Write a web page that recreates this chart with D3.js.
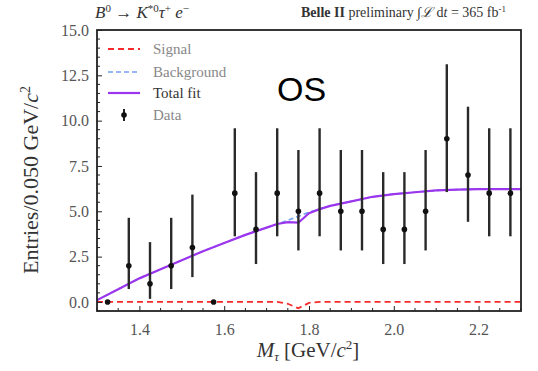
<!DOCTYPE html>
<html>
<head>
<meta charset="utf-8">
<script src="https://cdn.jsdelivr.net/npm/d3@7"></script>
<style>
  body { margin: 0; background: #fff; }
  svg text { font-family: "Liberation Serif", "DejaVu Serif", serif; }
</style>
</head>
<body>
<div id="chart"></div>
<script>
// data points: bin centres, counts and Poisson error bars
const binCenters = [1.325, 1.375, 1.425, 1.475, 1.525, 1.575, 1.625, 1.675, 1.725, 1.775,
                    1.825, 1.875, 1.925, 1.975, 2.025, 2.075, 2.125, 2.175, 2.225, 2.275];
const counts = [0, 2, 1, 2, 3, 0, 6, 4, 6, 5, 6, 5, 5, 4, 4, 5, 9, 7, 6, 6];
const errLow  = [0, 1.29, 0.83, 1.29, 1.63, 0, 2.38, 1.91, 2.38, 2.16, 2.38, 2.16, 2.16, 1.91, 1.91, 2.16, 2.94, 2.58, 2.38, 2.38];
const errHigh = [0, 2.64, 2.30, 2.64, 2.92, 0, 3.58, 3.16, 3.58, 3.38, 3.58, 3.38, 3.38, 3.16, 3.16, 3.38, 4.11, 3.77, 3.58, 3.58];

// fit curves
const fitX = [1.30, 1.35, 1.40, 1.45, 1.50, 1.55, 1.60, 1.65, 1.70, 1.725, 1.75, 1.775, 1.80, 1.825,
              1.85, 1.90, 1.95, 2.00, 2.05, 2.10, 2.15, 2.20, 2.25, 2.30];
const background = [0.1, 0.7, 1.3, 1.8, 2.3, 2.8, 3.25, 3.7, 4.1, 4.3, 4.5, 4.72, 4.95, 5.12,
                    5.3, 5.55, 5.8, 5.95, 6.05, 6.15, 6.2, 6.22, 6.22, 6.22];
const signal = [0, 0, 0, 0, 0, 0, 0, 0, 0, 0, -0.1, -0.35, -0.05, 0,
                0, 0, 0, 0, 0, 0, 0, 0, 0, 0];

const xTicks = [1.4, 1.6, 1.8, 2.0, 2.2];
const yTicks = [0, 2.5, 5, 7.5, 10, 12.5, 15];
const legendItems = ['Signal', 'Background', 'Total fit', 'Data'];

const width = 538, height = 371;
const margin = {left: 97, right: 17, top: 30, bottom: 60};
const serif = '"Liberation Serif", "DejaVu Serif", serif';

const svg = d3.select('#chart').append('svg')
  .attr('width', width).attr('height', height);

const x = d3.scaleLinear().domain([1.3, 2.3]).range([margin.left, width - margin.right]);
const y = d3.scaleLinear().domain([-0.5, 15]).range([height - margin.bottom, margin.top]);

const plot = svg.append('g');
svg.append('clipPath').attr('id', 'clip').append('rect')
  .attr('x', x(1.3)).attr('y', y(15)).attr('width', x(2.3) - x(1.3)).attr('height', y(-0.5) - y(15));

// axes: inward ticks, major + minor
const xMinor = d3.range(1.3, 2.3001, 0.05).filter(v => !xTicks.some(t => Math.abs(t - v) < 1e-6));
const yMinor = d3.range(-0.5, 15.001, 0.5).filter(v => !yTicks.some(t => Math.abs(t - v) < 1e-6));

const xAxis = svg.append('g').attr('transform', 'translate(0,' + y(-0.5) + ')');
xAxis.call(d3.axisBottom(x).tickValues(xTicks).tickSizeInner(-5).tickSizeOuter(0).tickPadding(13).tickFormat(d3.format('.1f')));
xAxis.append('g').selectAll('line').data(xMinor).enter().append('line')
  .attr('x1', d => x(d)).attr('x2', d => x(d)).attr('y1', 0).attr('y2', -3)
  .attr('stroke', '#222');

const yAxis = svg.append('g').attr('transform', 'translate(' + x(1.3) + ',0)');
yAxis.call(d3.axisLeft(y).tickValues(yTicks).tickSizeInner(-5).tickSizeOuter(0).tickPadding(8).tickFormat(d3.format('.1f')));
yAxis.append('g').selectAll('line').data(yMinor).enter().append('line')
  .attr('y1', d => y(d)).attr('y2', d => y(d)).attr('x1', 0).attr('x2', 3)
  .attr('stroke', '#222');

svg.selectAll('.domain').remove();
svg.selectAll('.tick line').attr('stroke', '#222');
svg.selectAll('.tick text').attr('fill', '#555').attr('font-family', serif)
  .style('font-family', serif).style('font-size', '16px');

// fit curves
const curve = d3.line().x((d, i) => x(fitX[i])).y(d => y(d));
const total = background.map((b, i) => b + signal[i]);

plot.append('path').datum(background).attr('clip-path', 'url(#clip)')
  .attr('d', curve).attr('fill', 'none')
  .attr('stroke', '#6fa0f0').attr('stroke-width', 1.6).attr('stroke-dasharray', '5,3');
plot.append('path').datum(total).attr('clip-path', 'url(#clip)')
  .attr('d', curve).attr('fill', 'none')
  .attr('stroke', '#9c35ee').attr('stroke-width', 2.2);
plot.append('path').datum(signal).attr('clip-path', 'url(#clip)')
  .attr('d', curve).attr('fill', 'none')
  .attr('stroke', '#f52a2a').attr('stroke-width', 1.8).attr('stroke-dasharray', '6,4');

// data with error bars
const points = counts.map((c, i) => ({x: binCenters[i], n: c, lo: errLow[i], hi: errHigh[i]}));
plot.append('g').selectAll('line').data(points.filter(d => d.n > 0)).enter().append('line')
  .attr('x1', d => x(d.x)).attr('x2', d => x(d.x))
  .attr('y1', d => y(d.n - d.lo)).attr('y2', d => y(d.n + d.hi))
  .attr('stroke', '#2a2a2a').attr('stroke-width', 2.4);
plot.append('g').selectAll('circle').data(points).enter().append('circle')
  .attr('cx', d => x(d.x)).attr('cy', d => y(d.n)).attr('r', 2.8)
  .attr('fill', '#111');

// frame
svg.append('rect')
  .attr('x', x(1.3)).attr('y', y(15)).attr('width', x(2.3) - x(1.3)).attr('height', y(-0.5) - y(15))
  .attr('fill', 'none').attr('stroke', '#222').attr('stroke-width', 1.8);

// legend
const leg = svg.append('g');
const legY = [49, 72, 93, 115];
leg.append('line').attr('x1', 108).attr('x2', 140).attr('y1', legY[0]).attr('y2', legY[0])
  .attr('stroke', '#f52a2a').attr('stroke-width', 1.8).attr('stroke-dasharray', '6,4');
leg.append('line').attr('x1', 108).attr('x2', 140).attr('y1', legY[1]).attr('y2', legY[1])
  .attr('stroke', '#6fa0f0').attr('stroke-width', 1.6).attr('stroke-dasharray', '5,3');
leg.append('line').attr('x1', 108).attr('x2', 140).attr('y1', legY[2]).attr('y2', legY[2])
  .attr('stroke', '#9c35ee').attr('stroke-width', 2.2);
leg.append('line').attr('x1', 124).attr('x2', 124).attr('y1', legY[3] - 6).attr('y2', legY[3] + 6)
  .attr('stroke', '#222').attr('stroke-width', 2);
leg.append('circle').attr('cx', 124).attr('cy', legY[3]).attr('r', 2.8).attr('fill', '#111');
leg.selectAll('text').data(legendItems).enter().append('text')
  .attr('x', 153).attr('y', (d, i) => legY[i] + 5)
  .attr('fill', (d, i) => i === 2 ? '#333' : '#888')
  .style('font-size', '15px').text(d => d);

// titles
const tl = svg.append('text').attr('x', 95).attr('y', 18).style('font-size', '17px').attr('fill', '#333');
tl.append('tspan').style('font-style', 'italic').text('B');
tl.append('tspan').attr('dy', -6).style('font-size', '11px').text('0');
tl.append('tspan').attr('dy', 6).text(' → ');
tl.append('tspan').style('font-style', 'italic').text('K');
tl.append('tspan').attr('dy', -6).style('font-size', '11px').text('*0');
tl.append('tspan').attr('dy', 6).style('font-style', 'italic').text('τ');
tl.append('tspan').attr('dy', -6).style('font-size', '11px').text('+');
tl.append('tspan').attr('dy', 6).style('font-style', 'italic').text(' e');
tl.append('tspan').attr('dy', -6).style('font-size', '11px').text('−');

const tr = svg.append('text').attr('x', 506).attr('y', 17).attr('text-anchor', 'end')
  .style('font-size', '14px').attr('fill', '#333');
tr.append('tspan').style('font-weight', 'bold').text('Belle II');
tr.append('tspan').text(' preliminary ∫');
tr.append('tspan').style('font-style', 'italic').text('ℒ');
tr.append('tspan').text(' d');
tr.append('tspan').style('font-style', 'italic').text('t');
tr.append('tspan').text(' = 365 fb');
tr.append('tspan').attr('dy', -5).style('font-size', '9px').text('-1');

// axis labels
const xl = svg.append('text').attr('x', 308).attr('y', 357).attr('text-anchor', 'middle')
  .style('font-size', '21px').attr('fill', '#333');
xl.append('tspan').style('font-style', 'italic').text('M');
xl.append('tspan').attr('dy', 4).style('font-size', '13px').style('font-style', 'italic').text('τ');
xl.append('tspan').attr('dy', -4).text('  [GeV/');
xl.append('tspan').style('font-style', 'italic').text('c');
xl.append('tspan').attr('dy', -8).style('font-size', '13px').text('2');
xl.append('tspan').attr('dy', 8).text(']');

const yl = svg.append('text').attr('transform', 'translate(38,' + 180 + ') rotate(-90)')
  .attr('text-anchor', 'middle').style('font-size', '22px').attr('fill', '#333');
yl.append('tspan').text('Entries/0.050 GeV/');
yl.append('tspan').style('font-style', 'italic').text('c');
yl.append('tspan').attr('dy', -8).style('font-size', '14px').text('2');

// OS label
svg.append('text').attr('x', 277).attr('y', 101)
  .style('font-family', '"Liberation Sans", Arial, sans-serif').style('font-size', '34px')
  .attr('fill', '#000').text('OS');
</script>
</body>
</html>
